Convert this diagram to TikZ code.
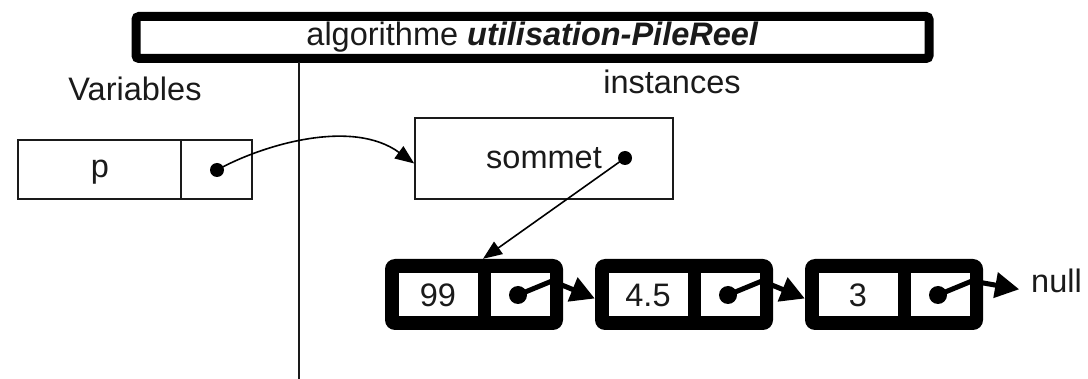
\documentclass[tikz,border=0pt]{standalone}
\usepackage{fontspec}
\setmainfont{Liberation Sans}
\usetikzlibrary{arrows.meta}
\definecolor{ink}{HTML}{1A1A1A}
\begin{document}
\begin{tikzpicture}[x=1pt,y=-1pt,
  every node/.style={font=\fontsize{32.5}{39}\selectfont, text=ink},
  titlebox/.style={draw=black, line width=9pt, rounded corners=3pt, minimum width=793pt, minimum height=42pt, inner sep=0pt},
  thinbox/.style={draw=ink, line width=1.6pt, minimum height=59pt, inner sep=0pt},
  listbox/.style={fill=black, rounded corners=10pt, minimum width=178pt, minimum height=71pt, inner sep=0pt},
  cell/.style={fill=white, draw=black, line width=1pt, minimum height=44pt, inner sep=0pt},
  plain/.style={inner sep=0pt},
  dotp/.style={fill=black},
  thinarrow/.style={draw=black, line width=1.6pt, -{Triangle[length=19pt,width=15pt]}},
  thickarrow/.style={draw=black, line width=5pt, line join=round, -{Triangle[length=24pt,width=25pt]}}
]
\useasboundingbox (0,0) rectangle (1088,379);

% title
\node[titlebox] (title) at (532.5,37.5) {algorithme \textbf{\textit{utilisation-PileReel}}};
\coordinate (vtop) at (299,62);
\coordinate (vbot) at (299,379);
\draw[ink, line width=1.8pt] (vtop) -- (vbot);

% headings
\node[plain, anchor=base] (varlab) at (135,101) {Variables};
\node[plain, anchor=base] (inslab) at (672,94) {instances};

% variable p
\node[thinbox, minimum width=163pt] (pname) at (99.5,169.5) {};
\node[plain, anchor=base] (ptext) at (100,178) {p};
\node[thinbox, minimum width=71pt] (pptr) at (216.5,169.5) {};
\coordinate (pdot) at (217,170);
\fill[dotp] (pdot) circle (7pt);

% sommet instance
\node[thinbox, minimum width=258pt, minimum height=81pt] (sommet) at (544,158.5) {sommet};
\coordinate (sdot) at (625,158);
\fill[dotp] (sdot) circle (7pt);

\draw[thinarrow] (pdot) .. controls (262,145) and (352,118) .. ([yshift=-5pt]sommet.west);

% list nodes
\foreach \i/\x/\v in {1/385/99, 2/595/4.5, 3/805/3} {
  \node[listbox] (n\i) at (\x+89,294.5) {};
  \node[cell, minimum width=80pt] (n\i v) at (\x+53,295) {\v};
  \node[cell, minimum width=60pt] (n\i p) at (\x+135,295) {};
  \coordinate (d\i) at (\x+133,295);
  \coordinate (b\i) at (\x+167,281);
}

\draw[thinarrow] (sdot) -- ([xshift=9pt]n1.north);

\node[plain, anchor=base west] (null) at (1031,293) {null};

\draw[thickarrow] (d1) -- (b1) -- ([yshift=-4pt]n2.west);
\draw[thickarrow] (d2) -- (b2) -- ([yshift=-4pt]n3.west);
\draw[thickarrow, shorten >=12pt] (d3) -- (b3) -- ([yshift=-10pt]null.west);
\foreach \i in {1,2,3} { \fill[dotp] (d\i) circle (9pt); }
\end{tikzpicture}
\end{document}
